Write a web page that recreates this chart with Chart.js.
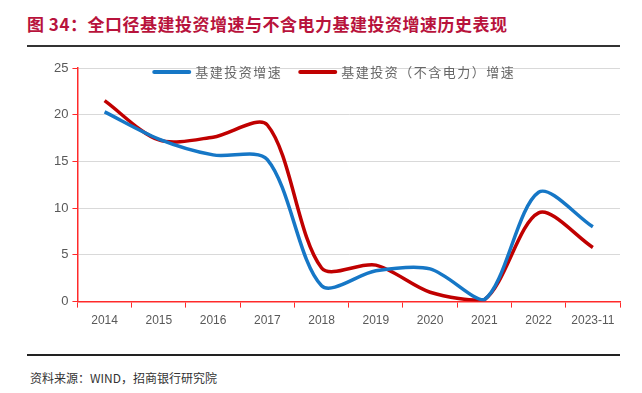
<!DOCTYPE html>
<html>
<head>
<meta charset="utf-8">
<script src="https://cdn.jsdelivr.net/npm/chart.js@4.4.1/dist/chart.umd.min.js"></script>
<style>
  body { margin: 0; background: #fff; width: 642px; height: 393px; position: relative; overflow: hidden; }
  #title { position: absolute; left: 27px; top: 11px; font-family: "Noto Sans CJK SC"; font-weight: bold; font-size: 17px; color: #b8133c; letter-spacing: 0.5px; }
  #topLine { position: absolute; left: 27px; top: 45px; width: 593px; height: 2px; background: #333; }
  #chartBox { position: absolute; left: 0; top: 50px; width: 642px; height: 290px; }
  #bottomLine { position: absolute; left: 27px; top: 354px; width: 593px; height: 2px; background: #222; }
  #source { position: absolute; left: 30px; top: 369px; font-family: "Noto Sans CJK SC"; font-size: 12px; color: #333; }
</style>
</head>
<body>
<div id="title">图 34：全口径基建投资增速与不含电力基建投资增速历史表现</div>
<div id="topLine"></div>
<div id="chartBox"><canvas id="lineChart"></canvas></div>
<div id="bottomLine"></div>
<div id="source">资料来源：WIND，招商银行研究院</div>
<script>
// Categorie (anni)
var years = ["2014", "2015", "2016", "2017", "2018", "2019", "2020", "2021", "2022", "2023-11"];

// Serie
var infraAll = [20.3, 17.4, 15.7, 15.2, 1.7, 3.3, 3.5, 0.2, 11.7, 8.0];
var infraExPower = [21.5, 17.3, 17.6, 18.9, 3.6, 3.9, 1.0, 0.2, 9.5, 5.8];

// Tick asse Y
var yTicks = [0, 5, 10, 15, 20, 25];

var lineChartData = {
    labels: years,
    datasets: [{
        label: '基建投资增速',
        data: infraAll,
        borderColor: '#1677c6',
        backgroundColor: '#1677c6',
        borderWidth: 3.5,
        pointRadius: 0,
        tension: 0.3,
        fill: false
    }, {
        label: '基建投资（不含电力）增速',
        data: infraExPower,
        borderColor: '#c00000',
        backgroundColor: '#c00000',
        borderWidth: 3.5,
        pointRadius: 0,
        tension: 0.3,
        fill: false
    }]
};

// Legenda orizzontale dentro l'area del grafico, in alto
var topLegend = {
    id: 'topLegend',
    afterDatasetsDraw: function (chart) {
        var c = chart.ctx;
        var area = chart.chartArea;
        c.save();
        c.font = '13px "Noto Sans CJK SC"';
        c.letterSpacing = '1.5px';
        c.textBaseline = 'middle';
        var lineW = 35, gap = 6, spacing = 18;
        var items = chart.data.datasets.map(function (ds) {
            return { ds: ds, w: lineW + gap + c.measureText(ds.label).width };
        });
        var total = items.reduce(function (s, it) { return s + it.w; }, 0) + spacing * (items.length - 1);
        var x = (area.left + area.right) / 2 - total / 2 - 14;
        var y = area.top + 4;
        items.forEach(function (it) {
            c.strokeStyle = it.ds.borderColor;
            c.lineWidth = 4;
            c.lineCap = 'round';
            c.beginPath();
            c.moveTo(x, y);
            c.lineTo(x + lineW, y);
            c.stroke();
            c.fillStyle = '#666';
            c.fillText(it.ds.label, x + lineW + gap, y);
            x += it.w + spacing;
        });
        c.restore();
    }
};

var ctx = document.getElementById('lineChart').getContext('2d');

new Chart(ctx, {
    type: 'line',
    data: lineChartData,
    plugins: [topLegend],
    options: {
        responsive: true,
        maintainAspectRatio: false,
        animation: false,
        layout: { padding: { left: 50, right: 22, top: 18, bottom: 6 } },
        plugins: {
            legend: { display: false },
            tooltip: { enabled: false }
        },
        scales: {
            x: {
                offset: true,
                border: { color: '#ff2a2a', width: 1.5 },
                grid: { drawOnChartArea: false, offset: true, tickColor: '#ff2a2a', tickLength: 6 },
                ticks: { color: '#595959', padding: 6, maxRotation: 0, font: { family: 'Liberation Sans', size: 12 } }
            },
            y: {
                min: 0,
                max: 25,
                afterBuildTicks: function (axis) {
                    axis.ticks = yTicks.map(function (v) { return { value: v }; });
                },
                border: { color: '#ff2a2a', width: 1.5 },
                grid: { color: '#d9d9d9', tickColor: '#ff2a2a', tickLength: 5 },
                ticks: { color: '#595959', padding: 4, font: { family: 'Liberation Sans', size: 13 } }
            }
        }
    }
});
</script>
</body>
</html>
